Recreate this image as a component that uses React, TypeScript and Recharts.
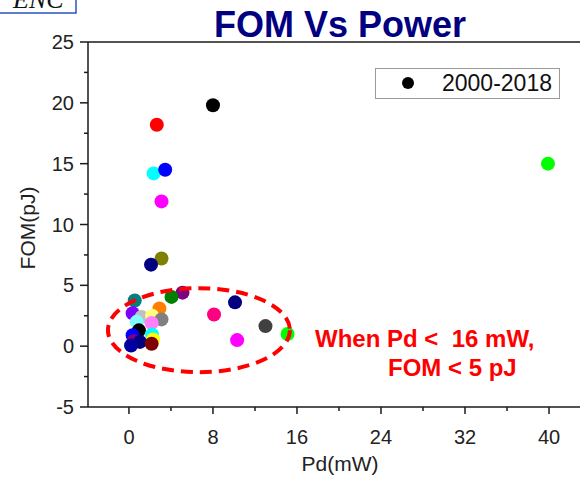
import { ScatterChart, Scatter, XAxis, YAxis, ReferenceArea, Cell } from 'recharts'

const FONT = '"Liberation Sans", Arial, sans-serif'
const AXIS = '#1a1a1a'

const SERIES_NAME = '2000-2018'

// Pd (mW) and FOM (pJ), one entry per published design, in draw order
const pd = [
  8.0, 2.65, 2.35, 3.45, 3.1, 3.1, 2.1, 39.9,
  0.55, 5.1, 4.05, 2.9, 0.35, 1.2, 2.2, 3.1, 0.73, 2.16, 8.1, 10.1, 13.0, 15.1,
  10.3, 0.95, 2.2, 0.35, 2.3, 0.45, 1.05, 2.16, 0.2,
]
const fom = [
  19.8, 18.2, 14.2, 14.5, 11.9, 7.2, 6.7, 15.0,
  3.75, 4.4, 4.05, 3.1, 2.7, 2.4, 2.5, 2.2, 2.0, 1.9, 2.6, 3.6, 1.65, 1.0,
  0.5, 1.3, 0.95, 0.9, 0.55, 0.4, 0.35, 0.2, 0.05,
]
const colors = [
  '#000000', '#ff0000', '#00ffff', '#0000ff', '#ff00ff', '#808000', '#000080', '#00ff00',
  '#008080', '#800080', '#008000', '#ff8000', '#8000ff', '#c0c0c0', '#ffff80', '#808080',
  '#80ffff', '#ff80ff', '#ff0080', '#000080', '#404040', '#00ff00', '#ff00ff', '#000000',
  '#00ffff', '#0000ff', '#ffff00', '#800080', '#000080', '#800000', '#0000a0',
]

const xTicks = [0, 4, 8, 12, 16, 20, 24, 28, 32, 36, 40]
const yTicks = [-5, -2.5, 0, 2.5, 5, 7.5, 10, 12.5, 15, 17.5, 20, 22.5, 25]

// region circled on the chart: Pd < 16 mW
const zone = { x1: -2.0, x2: 15.33, y1: -2.14, y2: 4.77 }

const points = pd.map((x, i) => ({ pd: x, fom: fom[i] }))

function BottomTick({ x, y, payload }: any) {
  const major = payload.value % 8 === 0
  return (
    <g>
      <line x1={x} x2={x} y1={y} y2={y + (major ? 7 : 4)} stroke={AXIS} strokeWidth={1.5} />
      {major && (
        <text x={x} y={y + 37} textAnchor="middle" fontSize={20} fontFamily={FONT} fill="#222">
          {payload.value}
        </text>
      )}
    </g>
  )
}

function TopTick({ x, y, payload }: any) {
  const major = payload.value % 8 === 0
  return <line x1={x} x2={x} y1={y} y2={y + (major ? 7 : 4)} stroke={AXIS} strokeWidth={1.5} />
}

function LeftTick({ x, y, payload }: any) {
  const major = payload.value % 5 === 0
  return (
    <g>
      <line x1={x - (major ? 8 : 4)} x2={x} y1={y} y2={y} stroke={AXIS} strokeWidth={1.5} />
      {major && (
        <text x={x - 14} y={y + 7} textAnchor="end" fontSize={20} fontFamily={FONT} fill="#222">
          {payload.value}
        </text>
      )}
    </g>
  )
}

function Ellipse({ x, y, width, height }: any) {
  return (
    <ellipse
      cx={x + width / 2} cy={y + height / 2} rx={width / 2} ry={height / 2}
      fill="none" stroke="#ff0000" strokeWidth={4} strokeDasharray="12 7"
    />
  )
}

export default function App() {
  return (
    <div style={{ position: 'absolute', left: 0, top: 0, width: 580, height: 477, background: '#fff', overflow: 'hidden' }}>
      <ScatterChart width={580} height={477} margin={{ top: 12, right: 0, bottom: 0, left: 8 }}>
        <XAxis
          type="number" dataKey="pd" domain={[-3.9, 42.95]} allowDataOverflow
          ticks={xTicks} interval={0} height={70} tickSize={0} tickMargin={0}
          tickLine={false} axisLine={{ stroke: AXIS, strokeWidth: 1.5 }} tick={<BottomTick />}
        />
        <XAxis
          xAxisId="top" orientation="top" type="number" domain={[-3.9, 42.95]} allowDataOverflow
          ticks={xTicks} interval={0} height={30} tickSize={0} tickMargin={0}
          tickLine={false} axisLine={{ stroke: AXIS, strokeWidth: 1.5 }} tick={<TopTick />}
        />
        <YAxis
          type="number" dataKey="fom" domain={[-5, 25]} allowDataOverflow
          ticks={yTicks} interval={0} width={80} tickSize={0} tickMargin={0}
          tickLine={false} axisLine={{ stroke: AXIS, strokeWidth: 1.5 }} tick={<LeftTick />}
        />
        <Scatter
          name={SERIES_NAME} data={points} isAnimationActive={false}
          shape={(p: any) => <circle cx={p.cx} cy={p.cy} r={7} fill={p.fill} />}
        >
          {points.map((_, i) => <Cell key={i} fill={colors[i]} />)}
        </Scatter>
        <ReferenceArea {...zone} shape={<Ellipse />} zIndex={700} />
      </ScatterChart>

      <svg width={580} height={477} style={{ position: 'absolute', left: 0, top: 0, pointerEvents: 'none' }}>
        <rect x={-2} y={-2} width={78} height={15} fill="#fff" stroke="#2a55c0" strokeWidth={1.5} />
        <text x={13} y={8} fontSize={26} fontStyle="italic" fontFamily='"Liberation Serif", serif' fill="#111">ENC</text>

        <text x={340} y={37} textAnchor="middle" fontSize={36} fontWeight="bold" fontFamily={FONT} fill="#000080">
          FOM Vs Power
        </text>

        <rect x={375.5} y={68.5} width={184} height={30} fill="#fff" stroke="#9a9a9a" strokeWidth={1} />
        <circle cx={408} cy={83} r={6} fill="#000" />
        <text x={442} y={91} fontSize={23} fontFamily={FONT} fill="#111">{SERIES_NAME}</text>

        <text x={315} y={347} fontSize={24} fontWeight="bold" fontFamily={FONT} fill="#ff0000" style={{ whiteSpace: 'pre' }}>
          {'When Pd <  16 mW,'}
        </text>
        <text x={388} y={376} fontSize={24} fontWeight="bold" fontFamily={FONT} fill="#ff0000">
          {'FOM < 5 pJ'}
        </text>

        <text x={340} y={471} textAnchor="middle" fontSize={21} fontFamily={FONT} fill="#222">Pd(mW)</text>
        <text
          x={27} y={228} textAnchor="middle" dominantBaseline="central" fontSize={21} fontFamily={FONT} fill="#222"
          transform="rotate(-90 27 228)"
        >
          FOM(pJ)
        </text>
      </svg>
    </div>
  )
}
